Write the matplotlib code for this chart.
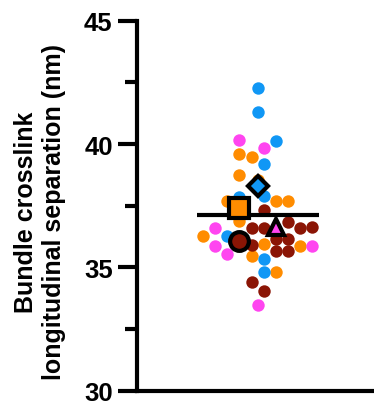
import numpy as np
import matplotlib.pyplot as plt
from matplotlib.ticker import MultipleLocator

plt.rcParams['font.family'] = ['Liberation Sans', 'DejaVu Sans']
plt.rcParams['font.weight'] = 'bold'

# each replicate: measured separations (nm) and their swarm slot
orange_vals = [39.61, 39.49, 38.76, 38.55, 37.70, 37.70, 37.70, 36.89, 36.26, 35.95, 35.88, 35.45, 34.80]
orange_slot = [-3, -1, -3, 0, -5, 3, 5, -3, -9, 1, 7, -1, 3]

blue_vals = [42.27, 41.29, 40.14, 39.18, 37.88, 37.84, 36.26, 35.34, 34.80]
blue_slot = [0, 0, 3, 1, 1, -3, -5, 1, 1]

magenta_vals = [40.15, 39.84, 36.58, 35.88, 35.88, 35.54, 33.49]
magenta_slot = [-3, 1, -7, -7, 9, -5, 0]

darkred_vals = [37.33, 36.85, 36.58, 36.58, 36.58, 36.63, 36.15, 36.15, 35.91, 35.65, 35.65, 34.40, 34.03]
darkred_slot = [1, 5, -1, 1, 7, 9, 3, 5, -1, 3, 5, -1, 1]

# replicate means
rep_means = [37.40, 38.31, 36.65, 36.08]
rep_slot = [-3, 0, 3, -3]
rep_markers = ['s', 'D', '^', 'o']
rep_sizes = [14, 10, 12, 13.5]

colors = ['#FF8C00', '#1097F5', '#FF45F0', '#8B1505']

fig = plt.figure(figsize=(3.74, 4.06), dpi=100)
ax = fig.add_axes([137/374, 14.3/406, 237/374, 370/406])

groups = [(orange_vals, orange_slot), (blue_vals, blue_slot),
          (magenta_vals, magenta_slot), (darkred_vals, darkred_slot)]
for (vals, slot), c in zip(groups, colors):
    ax.scatter(slot, vals, s=80, color=c, linewidths=0, zorder=2)

grand_mean = np.mean(rep_means)
ax.plot([-10, 10], [grand_mean, grand_mean], color='black', lw=3,
        solid_capstyle='butt', zorder=3)

for m, x, mk, ms, c in zip(rep_means, rep_slot, rep_markers, rep_sizes, colors):
    ax.plot(x, m, marker=mk, ms=ms, mfc=c, mec='black', mew=3, zorder=4)

ax.set_xlim(-19.8, 19.1)
ax.set_ylim(30, 45)
ax.yaxis.set_major_locator(MultipleLocator(5))
ax.yaxis.set_minor_locator(MultipleLocator(2.5))
ax.set_xticks([])

for s in ['top', 'right']:
    ax.spines[s].set_visible(False)
for s in ['left', 'bottom']:
    ax.spines[s].set_linewidth(3)

ax.tick_params(axis='y', which='major', length=14, width=3, pad=3.5, labelsize=18.5)
ax.tick_params(axis='y', which='minor', length=9, width=3)
for lab in ax.get_yticklabels():
    lab.set_fontweight('bold')

fig.text(40/374, 0.478, 'Bundle crosslink\nlongitudinal separation (nm)',
         rotation=90, ha='center', va='center', multialignment='center',
         fontsize=18, fontweight='bold', linespacing=1.2)

fig.savefig('out.png', dpi=100)
